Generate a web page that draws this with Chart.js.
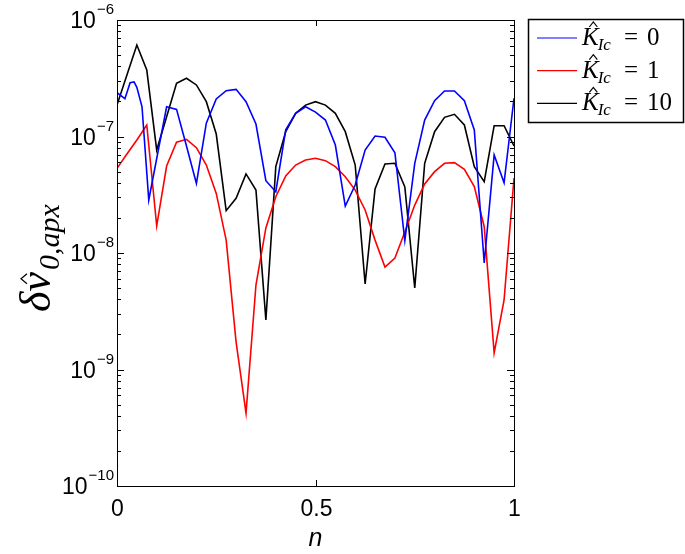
<!DOCTYPE html>
<html>
<head>
<meta charset="utf-8">
<script src="https://cdn.jsdelivr.net/npm/chart.js@4"></script>
<style>
  html, body { margin: 0; padding: 0; background: #fff; }
  #wrap { width: 685px; height: 554px; }
</style>
</head>
<body>
<div id="wrap"><canvas id="grafico" width="685" height="554"></canvas></div>
<script>
// n sample positions (black and red share the uniform grid)
const nGrid = [0, 0.025, 0.05, 0.075, 0.1, 0.125, 0.15, 0.175, 0.2, 0.225,
  0.25, 0.275, 0.3, 0.325, 0.35, 0.375, 0.4, 0.425, 0.45, 0.475,
  0.5, 0.525, 0.55, 0.575, 0.6, 0.625, 0.65, 0.675, 0.7, 0.725,
  0.75, 0.775, 0.8, 0.825, 0.85, 0.875, 0.9, 0.925, 0.95, 0.975, 1];
const nBlue = [0, 0.02, 0.033, 0.043, 0.05, 0.063, 0.08,
  0.125, 0.15, 0.175, 0.2, 0.225, 0.25, 0.275, 0.3, 0.325, 0.35, 0.375,
  0.4, 0.425, 0.45, 0.475, 0.5, 0.525, 0.55, 0.575, 0.6, 0.625, 0.65,
  0.675, 0.7, 0.725, 0.75, 0.775, 0.8, 0.825, 0.85, 0.875, 0.9, 0.925,
  0.95, 0.975, 1];

// K_Ic = 0
const serieK0 = [2.38e-7, 2.11e-7, 2.89e-7, 2.94e-7, 2.64e-7, 1.80e-7, 2.85e-8,
  1.80e-7, 1.71e-7, 8.3e-8, 3.96e-8, 1.30e-7, 2.10e-7, 2.47e-7, 2.54e-7,
  1.99e-7, 1.28e-7, 4.17e-8, 3.36e-8, 1.14e-7, 1.58e-7, 1.80e-7, 1.62e-7,
  1.385e-7, 8.45e-8, 2.53e-8, 3.83e-8, 7.66e-8, 1.01e-7, 9.84e-8, 7.26e-8,
  1.28e-8, 5.89e-8, 1.385e-7, 2.03e-7, 2.46e-7, 2.46e-7, 2.03e-7, 1.14e-7,
  8.21e-9, 6.94e-8, 4.01e-8, 2.13e-7];
// K_Ic = 1
const serieK1 = [5.33e-8, 7.08e-8, 9.33e-8, 1.255e-7, 1.71e-8, 5.58e-8, 8.92e-8,
  9.46e-8, 8.01e-8, 5.69e-8, 3.25e-8, 1.29e-8, 1.72e-9, 4.23e-10, 5.31e-9,
  1.64e-8, 3.04e-8, 4.58e-8, 5.69e-8, 6.28e-8, 6.50e-8, 6.20e-8, 5.51e-8,
  4.52e-8, 3.47e-8, 2.34e-8, 1.29e-8, 7.58e-9, 9.06e-9, 1.515e-8, 2.58e-8,
  3.91e-8, 4.99e-8, 5.89e-8, 5.96e-8, 5.23e-8, 3.71e-8, 1.68e-8, 1.39e-9,
  3.95e-9, 4.40e-8];
// K_Ic = 10
const serieK10 = [1.86e-7, 3.37e-7, 6.10e-7, 3.72e-7, 7.66e-8, 1.48e-7, 2.86e-7,
  3.16e-7, 2.77e-7, 1.99e-7, 1.05e-7, 2.31e-8, 2.95e-8, 4.77e-8, 3.47e-8,
  2.66e-9, 5.51e-8, 1.10e-7, 1.58e-7, 1.86e-7, 1.99e-7, 1.86e-7, 1.58e-7,
  1.10e-7, 5.69e-8, 5.42e-9, 3.54e-8, 5.80e-8, 5.89e-8, 3.69e-8, 5.01e-9,
  5.89e-8, 1.10e-7, 1.46e-7, 1.55e-7, 1.255e-7, 5.51e-8, 4.09e-8, 1.238e-7,
  1.238e-7, 8.29e-8];

const xTicks = [0, 0.5, 1];
const yExps = [-10, -9, -8, -7, -6];
const leyenda = ['0', '1', '10'];
const colores = ['#0000ff', '#ff0000', '#000000'];

function puntos(xs, ys) {
  return ys.map((v, i) => ({x: xs[i], y: v}));
}

const SANS = '"Liberation Sans", Arial, sans-serif';
const SERIF = '"Liberation Serif", "DejaVu Serif", serif';

function sombrero(ctx, cx, yb, w, h) {
  ctx.save();
  ctx.strokeStyle = '#000';
  ctx.lineWidth = 1.2;
  ctx.beginPath();
  ctx.moveTo(cx - w, yb);
  ctx.lineTo(cx, yb - h);
  ctx.lineTo(cx + w, yb);
  ctx.stroke();
  ctx.restore();
}

const decoracion = {
  id: 'decoracion',
  afterDraw(chart) {
    const ctx = chart.ctx;
    const a = chart.chartArea;
    const sx = chart.scales.x, sy = chart.scales.y;
    ctx.save();
    ctx.strokeStyle = '#000';
    ctx.lineWidth = 1;
    const seg = (x1, y1, x2, y2) => {
      ctx.beginPath(); ctx.moveTo(x1, y1); ctx.lineTo(x2, y2); ctx.stroke();
    };
    // box
    ctx.strokeRect(Math.round(a.left) + 0.5, Math.round(a.top) + 0.5,
      Math.round(a.right - a.left), Math.round(a.bottom - a.top));

    // y ticks (log, inward)
    yExps.forEach(k => {
      for (let m = 1; m < 10; m++) {
        if (k === -6 && m > 1) break;
        const py = Math.round(sy.getPixelForValue(m * Math.pow(10, k))) + 0.5;
        const len = m === 1 ? 7 : 4;
        seg(a.left, py, a.left + len, py);
        seg(a.right, py, a.right - len, py);
      }
      const py = sy.getPixelForValue(Math.pow(10, k));
      const ex = '\u2212' + Math.abs(k);
      ctx.fillStyle = '#000';
      ctx.textBaseline = 'alphabetic';
      ctx.font = '15px ' + SANS;
      const wEx = ctx.measureText(ex).width;
      ctx.textAlign = 'right';
      const right = a.left - 3;
      ctx.fillText(ex, right, py - 6);
      ctx.font = '23px ' + SANS;
      ctx.fillText('10', right - wEx - 1, py + 8);
    });

    // x ticks
    ctx.font = '23px ' + SANS;
    ctx.textAlign = 'center';
    ctx.textBaseline = 'alphabetic';
    xTicks.forEach(t => {
      const px = Math.round(sx.getPixelForValue(t)) + 0.5;
      seg(px, a.bottom, px, a.bottom - 6);
      seg(px, a.top, px, a.top + 6);
      ctx.fillText(String(t), px, a.bottom + 30);
    });

    // x label
    ctx.font = 'italic 25px ' + SANS;
    ctx.fillText('n', (a.left + a.right) / 2, a.bottom + 60);

    // y label: delta v-hat_{0,apx}
    ctx.save();
    ctx.translate(50, 258);
    ctx.rotate(-Math.PI / 2);
    ctx.textAlign = 'left';
    ctx.font = 'italic 44px ' + SERIF;
    const wD = ctx.measureText('\u03b4').width;
    const wV = ctx.measureText('v').width;
    ctx.font = 'italic 30px ' + SERIF;
    const sub = '0,apx';
    const wS = ctx.measureText(sub).width;
    const x0 = -(wD + wV + wS + 2) / 2;
    ctx.font = 'italic 44px ' + SERIF;
    ctx.fillText('\u03b4', x0, 0);
    ctx.fillText('v', x0 + wD, 0);
    sombrero(ctx, x0 + wD + wV / 2 + 3, -23, 5, 6);
    ctx.font = 'italic 30px ' + SERIF;
    ctx.fillText(sub, x0 + wD + wV + 2, 9);
    ctx.restore();

    // legend
    const lx = 528.5, ly = 19.5, lw = 155, lh = 103;
    ctx.fillStyle = '#fff';
    ctx.fillRect(lx, ly, lw, lh);
    ctx.strokeStyle = '#000';
    ctx.lineWidth = 1.5;
    ctx.strokeRect(lx, ly, lw, lh);
    leyenda.forEach((lab, i) => {
      const yy = 38 + i * 32.7;
      ctx.strokeStyle = colores[i];
      ctx.lineWidth = 1.2;
      seg(537, yy, 577, yy);
      ctx.fillStyle = '#000';
      ctx.textAlign = 'left';
      ctx.textBaseline = 'alphabetic';
      let tx = 582;
      const base = yy + 7;
      ctx.font = 'italic 25px ' + SERIF;
      ctx.fillText('K', tx, base);
      const wK = ctx.measureText('K').width;
      sombrero(ctx, tx + wK / 2 + 3, base - 18, 4, 5);
      tx += wK - 1;
      ctx.font = 'italic 17px ' + SERIF;
      ctx.fillText('Ic', tx, base + 5);
      ctx.font = '25px ' + SERIF;
      ctx.fillText('=', 624, base);
      ctx.fillText(lab, 647, base);
    });
    ctx.restore();
  }
};

new Chart(document.getElementById('grafico'), {
  type: 'line',
  data: {
    datasets: [
      { label: 'K_Ic = 0', data: puntos(nBlue, serieK0), borderColor: colores[0] },
      { label: 'K_Ic = 1', data: puntos(nGrid, serieK1), borderColor: colores[1] },
      { label: 'K_Ic = 10', data: puntos(nGrid, serieK10), borderColor: colores[2] }
    ]
  },
  options: {
    responsive: false,
    animation: false,
    devicePixelRatio: 1,
    layout: { padding: { left: 117, top: 20, right: 171, bottom: 68 } },
    elements: {
      point: { radius: 0 },
      line: { borderWidth: 1.6, tension: 0, fill: false }
    },
    plugins: { legend: { display: false }, tooltip: { enabled: false } },
    scales: {
      x: { type: 'linear', min: 0, max: 1, display: false },
      y: { type: 'logarithmic', min: 1e-10, max: 1e-6, display: false }
    }
  },
  plugins: [decoracion]
});
</script>
</body>
</html>
